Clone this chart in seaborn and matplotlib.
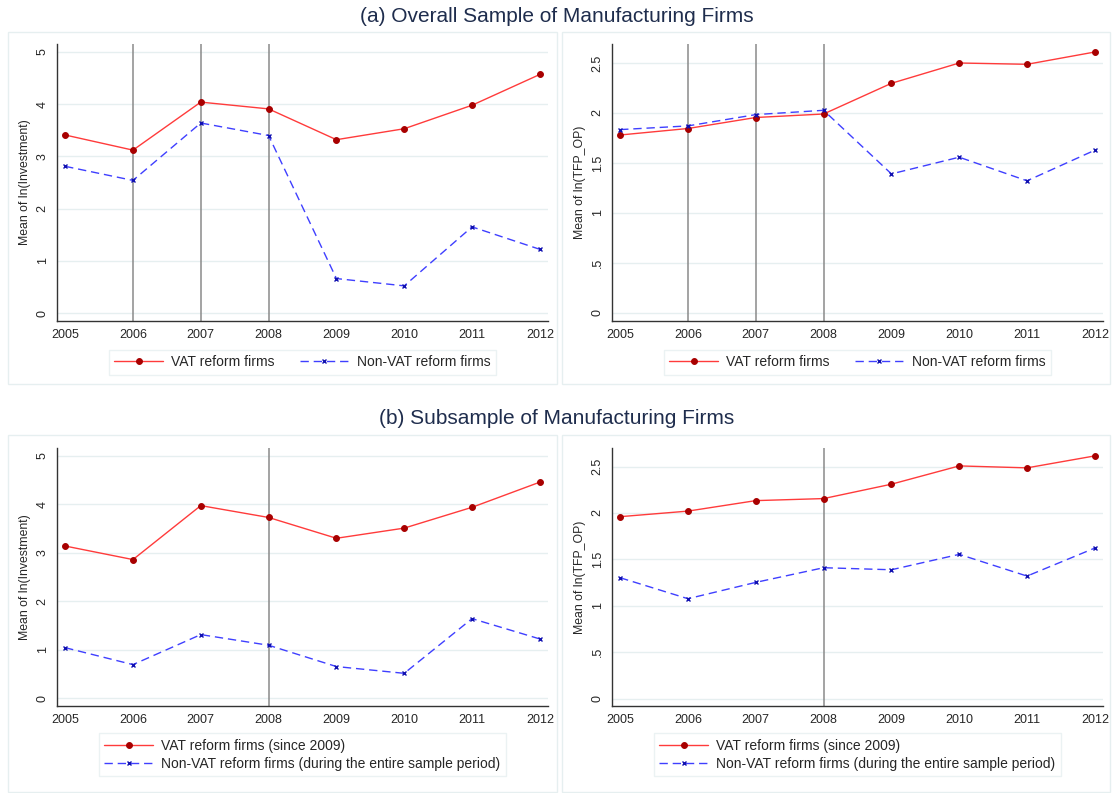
import matplotlib
matplotlib.use("Agg")
import matplotlib.pyplot as plt
from matplotlib.patches import Rectangle
import numpy as np
import pandas as pd
import seaborn as sns

# ---- data -------------------------------------------------------------
years = [2005, 2006, 2007, 2008, 2009, 2010, 2011, 2012]

inv_vat_all = [3.41, 3.12, 4.04, 3.91, 3.32, 3.53, 3.98, 4.57]
inv_non_all = [2.81, 2.54, 3.64, 3.40, 0.66, 0.52, 1.65, 1.22]
tfp_vat_all = [1.78, 1.845, 1.955, 1.99, 2.297, 2.50, 2.487, 2.61]
tfp_non_all = [1.834, 1.871, 1.984, 2.027, 1.391, 1.558, 1.322, 1.628]

inv_vat_sub = [3.14, 2.86, 3.975, 3.73, 3.30, 3.51, 3.94, 4.46]
inv_non_sub = [1.04, 0.69, 1.31, 1.09, 0.65, 0.51, 1.64, 1.22]
tfp_vat_sub = [1.96, 2.02, 2.133, 2.155, 2.31, 2.507, 2.486, 2.615]
tfp_non_sub = [1.302, 1.076, 1.252, 1.41, 1.388, 1.554, 1.32, 1.622]

inv_ticks = [0, 1, 2, 3, 4, 5]
inv_ticklabels = ["0", "1", "2", "3", "4", "5"]
tfp_ticks = [0, 0.5, 1, 1.5, 2, 2.5]
tfp_ticklabels = ["0", ".5", "1", "1.5", "2", "2.5"]

labels_a = ["VAT reform firms", "Non-VAT reform firms"]
labels_b = ["VAT reform firms (since 2009)",
            "Non-VAT reform firms (during the entire sample period)"]
title_a = "(a) Overall Sample of Manufacturing Firms"
title_b = "(b) Subsample of Manufacturing Firms"
ylab_inv = "Mean of ln(Investment)"
ylab_tfp = "Mean of ln(TFP_OP)"
vlines_a = [2006, 2007, 2008]
vlines_b = [2008]

# ---- style ------------------------------------------------------------
sns.set_style("white")
plt.rcParams["font.family"] = ["Liberation Sans", "DejaVu Sans"]

RED = "#ff3b3b"
DARKRED = "#a80000"
BLUE = "#3f3fff"
DARKBLUE = "#1010b0"
GRID = "#e6eff0"
TITLE_COL = "#1f2d4d"

fig = plt.figure(figsize=(11.13, 7.93), dpi=100)
W, H = 1113, 793


def fx(px):
    return px / W


def fy(py):
    return 1 - py / H


def make_axes(left, right, top, bottom):
    return fig.add_axes([fx(left), fy(bottom), fx(right - left), (bottom - top) / H])


def draw_panel(ax, vat, non, labels, ticks, ticklabels, ylim, ylabel, vlines, two_rows):
    df = pd.DataFrame({
        "year": years * 2,
        "value": list(vat) + list(non),
        "group": [labels[0]] * len(years) + [labels[1]] * len(years),
    })
    for yv in ticks:
        ax.axhline(yv, color=GRID, lw=1.0, zorder=0)
    for xv in vlines:
        ax.axvline(xv, color="#8a8a8a", lw=1.1, zorder=1)
    sns.lineplot(data=df[df.group == labels[0]], x="year", y="value", ax=ax,
                 color=RED, lw=1.0, marker="o", markersize=4.2,
                 markerfacecolor=DARKRED, markeredgecolor=DARKRED,
                 label=labels[0], zorder=3)
    sns.lineplot(data=df[df.group == labels[1]], x="year", y="value", ax=ax,
                 color=BLUE, lw=1.0, marker="x", markersize=2.8,
                 markeredgecolor=DARKBLUE, markeredgewidth=1.0,
                 label=labels[1], zorder=3)
    ax.lines[-1].set_dashes([6, 3.5])
    ax.set_xlim(2004.88, 2012.12)
    ax.set_ylim(*ylim)
    ax.set_xticks(years)
    ax.set_xticklabels([str(y) for y in years], fontsize=9)
    ax.set_yticks(ticks)
    ax.set_yticklabels(ticklabels, fontsize=9, rotation=90, va="center")
    ax.set_xlabel("")
    ax.set_ylabel(ylabel, fontsize=8.8, labelpad=4)
    for s in ["top", "right"]:
        ax.spines[s].set_visible(False)
    for s in ["left", "bottom"]:
        ax.spines[s].set_color("#333333")
        ax.spines[s].set_linewidth(1.0)
    ax.tick_params(axis="both", direction="out", length=4, width=0.8,
                   color="#333333", pad=2)
    ax.set_facecolor("white")
    leg = ax.legend(loc="upper center", bbox_to_anchor=(0.5, -0.078),
                    ncol=1 if two_rows else 2, frameon=True, fontsize=10,
                    handlelength=3.5, handletextpad=0.6, columnspacing=1.8,
                    borderpad=0.4, labelspacing=0.3, fancybox=False,
                    alignment="left")
    leg.get_frame().set_edgecolor(GRID)
    leg.get_frame().set_linewidth(1.0)
    return ax


# panel frames
for (l, t, r, b) in [(8, 32, 557, 384), (562, 32, 1110, 384),
                     (8, 435, 557, 792), (562, 435, 1110, 792)]:
    fig.patches.append(Rectangle((fx(l), fy(b)), fx(r - l), (b - t) / H,
                                 transform=fig.transFigure, fill=False,
                                 edgecolor=GRID, lw=1.0))

fig.text(0.5, fy(16), title_a, ha="center", va="center", fontsize=15, color=TITLE_COL)
fig.text(0.5, fy(419), title_b, ha="center", va="center", fontsize=15, color=TITLE_COL)

ax1 = make_axes(57, 548, 44, 321)
draw_panel(ax1, inv_vat_all, inv_non_all, labels_a, inv_ticks, inv_ticklabels,
           (-0.153, 5.153), ylab_inv, vlines_a, False)
ax2 = make_axes(612, 1103, 44, 321)
draw_panel(ax2, tfp_vat_all, tfp_non_all, labels_a, tfp_ticks, tfp_ticklabels,
           (-0.08, 2.69), ylab_tfp, vlines_a, False)
ax3 = make_axes(57, 548, 448, 706)
draw_panel(ax3, inv_vat_sub, inv_non_sub, labels_b, inv_ticks, inv_ticklabels,
           (-0.165, 5.165), ylab_inv, vlines_b, True)
ax4 = make_axes(612, 1103, 448, 706)
draw_panel(ax4, tfp_vat_sub, tfp_non_sub, labels_b, tfp_ticks, tfp_ticklabels,
           (-0.08, 2.70), ylab_tfp, vlines_b, True)

fig.savefig("out.png", dpi=100, facecolor="white")
